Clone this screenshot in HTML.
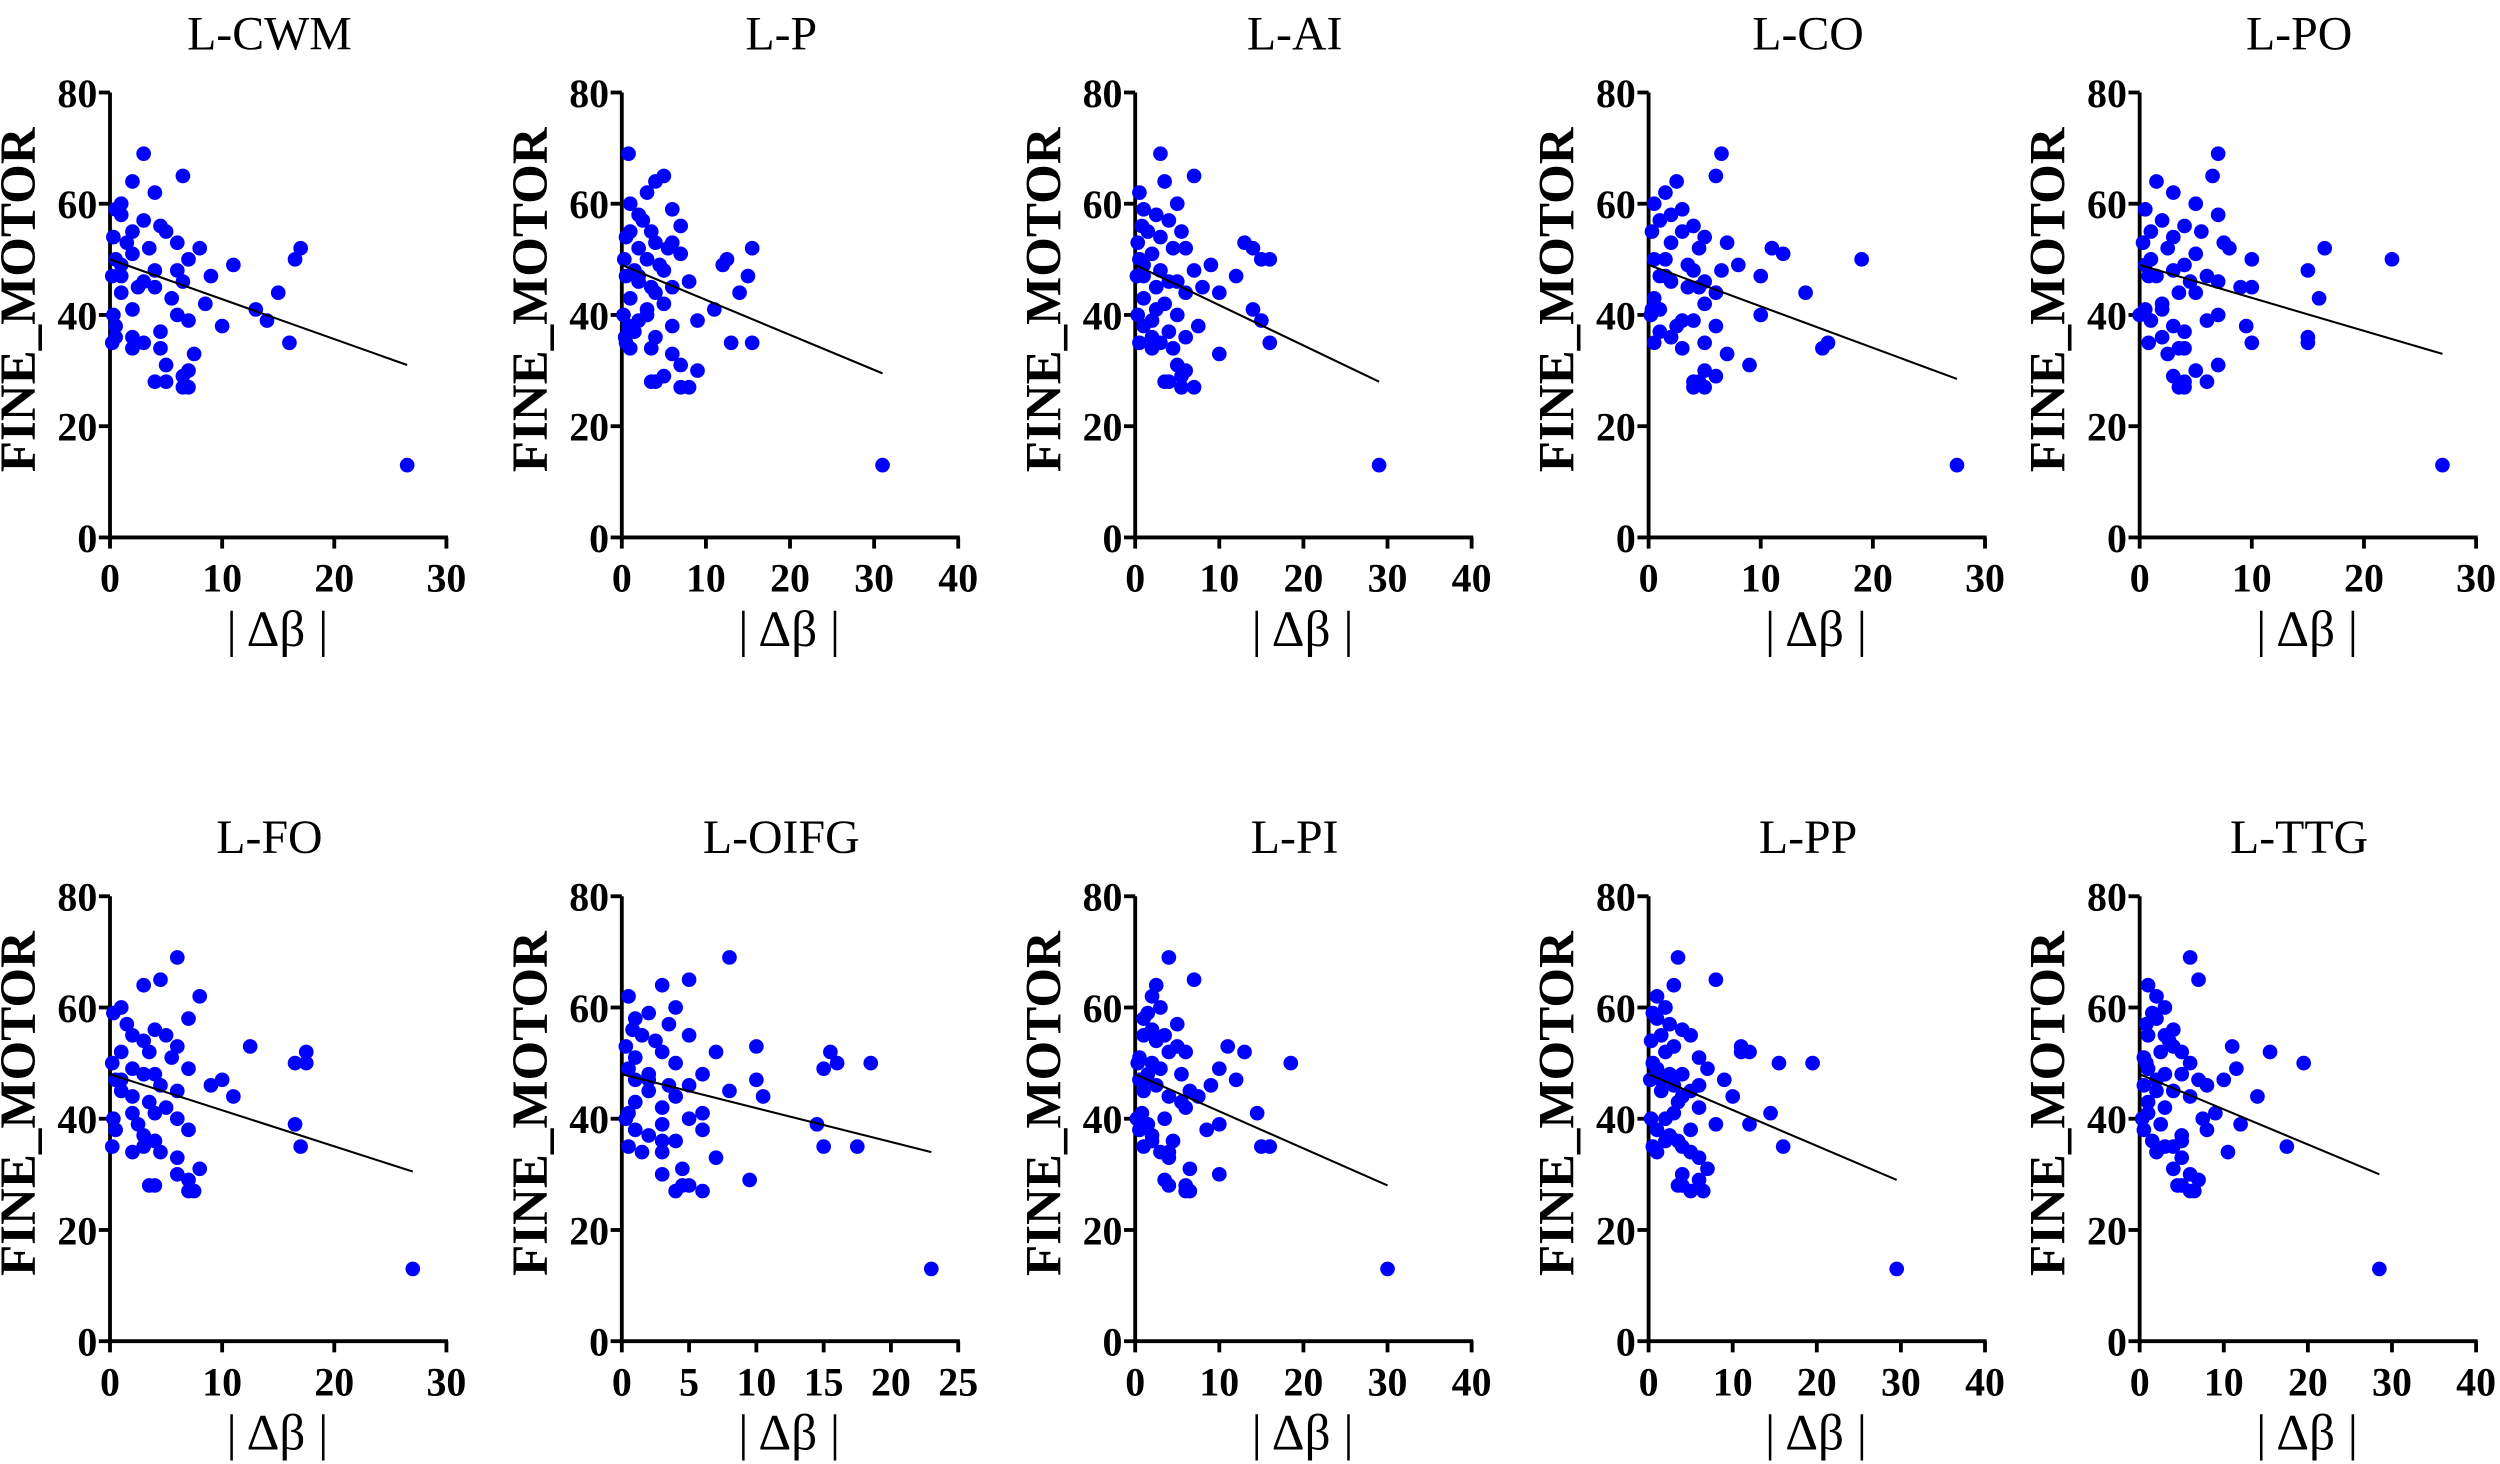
<!DOCTYPE html>
<html><head><meta charset="utf-8"><style>
html,body{margin:0;padding:0;background:#fff;}
svg{display:block;}
text{font-family:"Liberation Serif",serif;}
</style></head><body>
<svg id="fig" width="2500" height="1464" viewBox="0 0 1568 918" preserveAspectRatio="none" xmlns="http://www.w3.org/2000/svg"></svg>
<script>
const fineMotor=[69,65,64,62,60,59,58,57,56,55,55,54,53,53,52,52,51,50,50,49,49,48,48,47,47,46,46,45,45,44,44,43,42,41,40,40,39,39,38,38,37,36,35,35,35,34,34,33,31,30,29,28,28,27,27,50,52,47,41,36];
const outlierY=13;
const panelTitles=["L-CWM","L-P","L-AI","L-CO","L-PO","L-FO","L-OIFG","L-PI","L-PP","L-TTG"];
const xMaxes=[30,40,40,30,30,30,25,40,40,40];
const xSteps=[10,10,10,10,10,10,5,10,10,10];
const outlierX=[26.5,31,29,27.5,27,27,23,30,29.5,28.5];
const fitStart=[50,49,49,49,49,48,48,48,48,48];
const fitEnd=[31,29.5,28,28.5,33,30.5,34,28,29,30];
const xCWM=[3,6.5,2,4,1,0.5,1,3,4.5,2,5,0.3,6,1.5,3.5,8,2,0.5,7,11,1,4,6,0.2,9,3,6.5,2.5,4,15,1,5.5,8.5,13,0.3,6,7,14,0.5,10,4.5,2,16,0.2,3,2,4.5,7.5,5,7,6.5,4,5,7,6.5,16.5,17,1,2,0.5];
const xP=[0.8,5,4,3,1,6,2,2.5,7,1,3.5,0.5,4,6,2,5.5,7,0.3,3,4.5,12,1.5,5,0.5,15,2,8,3.5,6,4,14,1,5,11,0.2,3,2,9,0.8,6,1.5,4,15.5,0.5,13,1,3.5,6,7,9,5,3.5,4,8,7,12.5,15.5,2,3,0.4];
const xAI=[3,7,3.5,0.5,5,1,2.5,4,0.8,1.5,5.5,3,13,0.3,6,4.5,2,0.5,16,9,1,3,7,0.2,12,4,5,8,2.5,10,6,1,3.5,14,0.3,5,2,15,1,7.5,4,2,16,0.5,3,4.5,2,10,5,6,5.5,3.5,4,7,5.5,15,14,1,2.5,6];
const xCO=[6.5,6,2.5,1.5,0.5,3,2,1,4,0.3,3,5,7,2,11,4.5,12,1.5,0.5,8,3.5,4,6.5,1,10,5,2,4.5,3.5,6,14,0.5,5,1,0.2,10,4,3,2.5,6,1,2,16,0.5,5,15.5,3,7,9,5,6,4,4.5,5,4,19,11,1.5,0.3,2];
const xPO=[7,6.5,1.5,3,5,0.5,7,2,4,1,5.5,3,7.5,0.3,8,2.5,5,1,10,0.5,4,3,15,6,1.5,7,4.5,9,10,3.5,5,16,2,0.5,0,7,6,1,3,9.5,4,2,15,10,0.8,3.5,4,2.5,7,5,3,6,4,4,3.5,22.5,16.5,0.8,2,15];
const xFO=[6,4.5,3,8,1,0.3,7,1.5,4,5,2,3,6,12.5,3.5,1,5.5,0.2,17.5,7,2,3,4,0.5,10,4.5,9,1,6,11,2,3.5,5,4,0.3,6,16.5,2.5,0.5,7,3,4,17,0.2,3,2,4.5,6,8,6,7,4,3.5,7,7.5,16.5,17.5,1,2,4];
const xOIFG=[8,5,3,0.5,4,2,1,3.5,0.8,1.5,5,2.5,10,0.3,7,3,1,16,4,15,0.5,2,6,1,10,3.5,5,8,2,10.5,4,1,3,6,0.3,5,14.5,3,1,6,2,4,15,0.5,17.5,1.5,3,7,4.5,3,9.5,5,4.5,6,4,18.5,15.5,2,0.5,3];
const xPI=[4,7,2.5,2,3,1.5,1,5,2,1,3.5,2.5,11,5,13,6,0.5,18.5,0.3,10,3,1.5,5.5,0.5,12,2.5,9,6.5,1,7.5,4,5.5,6,14.5,0.2,3.5,1.5,10,0.5,8.5,2,4.5,15,16,1,3,4,4,6.5,10,3.5,4,6,6.5,6,2,4,1,0.8,2];
const xPP=[3.5,8,3,1,2,0.5,1,2.5,4,1.5,5,0.3,3,11,12,2,6,19.5,0.5,7,1,4,2.5,0.2,9,3,6,5,1.5,10,4,3.5,6,14.5,0.3,2,8,12,1,5,2.5,3.5,16,0.5,4,1,5,6,7,4,6,3.5,4,6.5,5,15.5,11,1.5,3,2];
const xTTG=[6,7,1,2,3,1.5,2,0.8,4,3,1,3.5,11,4,5,2.5,0.5,19.5,6,11.5,1,5,3,7,10,0.5,8,2,4,6,14,1,3,9,0.3,7.5,12,2.5,0.5,8,5,1.5,17.5,4,3,10.5,2,5,4,6,7,5,4.5,6,6.5,0.8,15.5,2,1,5];
const panelXs=[xCWM,xP,xAI,xCO,xPO,xFO,xOIFG,xPI,xPP,xTTG];

const NS="http://www.w3.org/2000/svg";
const svg=document.getElementById('fig');
const colX0=[69,390,712,1034,1342];
const plotW=211, rowTop=[58,562], plotH=279;
function mk(tag,attrs,parent){const e=document.createElementNS(NS,tag);for(const k in attrs)e.setAttribute(k,attrs[k]);(parent||svg).appendChild(e);return e;}

for(let p=0;p<10;p++){
  const col=p%5,row=Math.floor(p/5);
  const x0=colX0[col],top=rowTop[row],bot=top+plotH;
  const xMax=xMaxes[p];
  const sx=v=>x0+v/xMax*plotW;
  const sy=v=>bot-v/80*plotH;
  const g=mk('g',{});
  
  
  const t=mk('text',{x:x0+100,y:top-27,'text-anchor':'middle','font-size':30},g);
  t.textContent=panelTitles[p];
  
  
  const yl=mk('text',{transform:`translate(${x0-47},${top+130}) rotate(-90)`,'text-anchor':'middle','font-size':32,'font-weight':'bold'},g);
  yl.textContent='FINE_MOTOR';
  
  
  const xl=mk('text',{x:x0+105,y:bot+68,'text-anchor':'middle','font-size':32},g);
  xl.textContent='| \u0394\u03b2 |';
  
  
  mk('line',{x1:x0,y1:top,x2:x0,y2:bot+1,stroke:'#000','stroke-width':2.4},g);
  mk('line',{x1:x0-1,y1:bot,x2:x0+plotW+1,y2:bot,stroke:'#000','stroke-width':2.4},g);
  for(let v=0;v<=80;v+=20){
    mk('line',{x1:x0-7,y1:sy(v),x2:x0,y2:sy(v),stroke:'#000','stroke-width':2.4},g);
    const tl=mk('text',{x:x0-8,y:sy(v)+9,'text-anchor':'end','font-size':25,'font-weight':'bold'},g);
    tl.textContent=v;
    
    
  }
  for(let v=0;v<=xMax;v+=xSteps[p]){
    mk('line',{x1:sx(v),y1:bot,x2:sx(v),y2:bot+7,stroke:'#000','stroke-width':2.4},g);
    const tl=mk('text',{x:sx(v),y:bot+34,'text-anchor':'middle','font-size':25,'font-weight':'bold'},g);
    tl.textContent=v;
    
    
  }
  const xs=panelXs[p];
  for(let i=0;i<xs.length;i++){
    const c=mk('circle',{cx:sx(xs[i]),cy:sy(fineMotor[i]),r:4.6,fill:'#0000ff'},g);
    
    
  }
  const o=mk('circle',{cx:sx(outlierX[p]),cy:sy(outlierY),r:4.6,fill:'#0000ff'},g);
  
  
  const fl=mk('line',{x1:sx(0),y1:sy(fitStart[p]),x2:sx(outlierX[p]),y2:sy(fitEnd[p]),stroke:'#000','stroke-width':1.3},g);
  
  
}
</script>
</body></html>
